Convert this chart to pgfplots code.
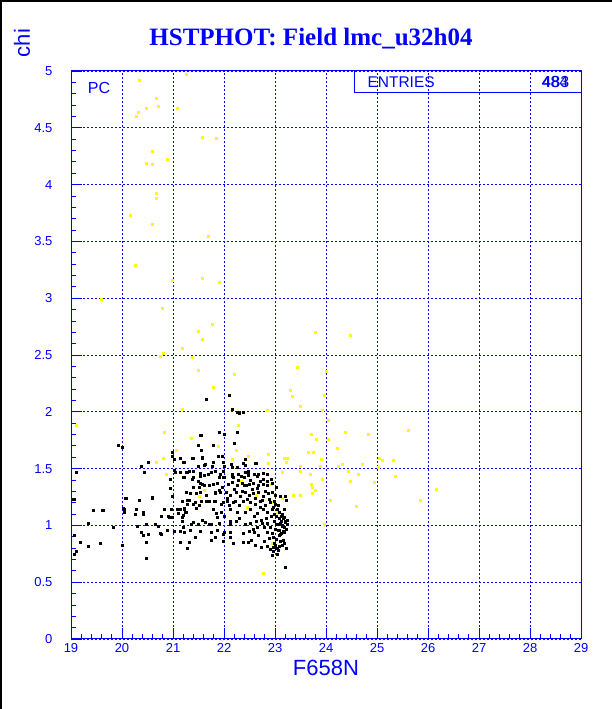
\documentclass[border=0pt]{standalone}
\usepackage{fontspec}
\setmainfont{Liberation Sans}
\newfontfamily\titlefont{Liberation Serif}
\usepackage{pgfplots}
\pgfplotsset{compat=1.18}
\definecolor{hblue}{RGB}{0,0,255}
\definecolor{hyellow}{RGB}{255,255,0}
\begin{document}
\begin{tikzpicture}
\useasboundingbox (0pt,0pt) rectangle (612pt,709pt);
\fill[white] (0pt,0pt) rectangle (612pt,709pt);
\draw[black, line width=2pt] (1pt,0pt) -- (1pt,708pt) -- (612pt,708pt);
\begin{axis}[
  at={(71pt,70pt)}, anchor=south west,
  width=510pt, height=568pt, scale only axis,
  xmin=19, xmax=29, ymin=0, ymax=5,
  xtick={19,20,21,22,23,24,25,26,27,28,29},
  ytick={0,0.5,1,1.5,2,2.5,3,3.5,4,4.5,5},
  minor x tick num=4, minor y tick num=4,
  xtick pos=bottom, ytick pos=left, tick align=inside,
  major tick length=11pt, minor tick length=5pt,
  grid=major,
  grid style={hblue, line width=0.7pt, dash pattern=on 2pt off 2pt},
  axis line style={hblue, line width=1pt},
  tick style={hblue, line width=0.8pt},
  /pgf/number format/assume math mode=true,
  ticklabel style={hblue, font=\fontsize{13}{13}\selectfont},
  yticklabel style={xshift=-15pt},
  xticklabel style={yshift=-1pt},
  clip=false,
]
\addplot[only marks, mark=square*, mark size=1pt, color=hyellow] coordinates {
(20.33,4.92)(21.25,4.97)(20.67,4.76)(20.71,4.69)(20.47,4.67)(20.31,4.64)(20.27,4.60)(21.09,4.67)
(21.58,4.42)(21.84,4.41)(20.60,4.29)(20.89,4.22)(20.47,4.19)(20.60,4.18)(20.68,3.92)(20.67,3.88)
(20.17,3.73)(20.60,3.65)(21.69,3.55)(20.25,3.29)(20.98,3.16)(21.58,3.18)(21.90,3.14)(19.60,2.99)
(20.79,2.91)(21.77,2.77)(21.50,2.71)(21.58,2.64)(23.78,2.70)(24.48,2.67)(21.18,2.56)(20.80,2.52)
(20.75,2.49)(21.37,2.48)(21.49,2.37)(22.20,2.33)(23.43,2.39)(24.01,2.36)(21.78,2.22)(23.29,2.19)
(23.33,2.14)(23.96,2.15)(23.49,2.05)(22.84,2.01)(23.93,2.01)(24.04,1.93)(22.28,1.88)(24.37,1.82)
(24.82,1.80)(25.61,1.84)(23.71,1.80)(23.80,1.76)(24.04,1.76)(21.88,1.70)(22.24,1.66)(24.21,1.68)
(22.87,1.63)(22.47,1.61)(23.66,1.64)(23.74,1.64)(23.18,1.59)(23.23,1.59)(23.22,1.56)(22.86,1.55)
(23.90,1.58)(25.04,1.59)(25.10,1.57)(25.31,1.57)(22.16,1.58)(24.71,1.54)(24.31,1.54)(24.24,1.52)
(23.88,1.52)(23.49,1.52)(25.02,1.51)(24.43,1.48)(23.50,1.48)(23.14,1.47)(24.64,1.45)(23.69,1.45)
(25.35,1.43)(24.48,1.39)(23.93,1.41)(24.95,1.38)(23.70,1.36)(23.73,1.34)(23.78,1.31)(26.17,1.32)
(22.92,1.36)(23.35,1.27)(23.50,1.27)(23.73,1.28)(23.15,1.24)(24.08,1.22)(24.60,1.17)(25.84,1.22)
(23.97,1.01)(22.77,0.58)(21.18,2.02)(19.10,1.88)(20.82,1.82)(21.35,1.77)(21.06,1.66)(20.80,1.59)
(20.68,1.56)(20.86,1.45)(21.52,1.26)(21.62,1.31)(21.82,1.28)(22.64,1.27)(22.76,1.41)(22.34,1.39)
(22.40,1.47)(22.94,0.84)(23.05,1.12)(23.12,1.03)(22.95,1.20)(22.45,1.16)
};
\addplot[only marks, mark=square*, mark size=1pt, color=black] coordinates {
(19.92,1.71)(20.00,1.69)(20.98,1.64)(20.98,1.61)(21.15,1.59)(21.22,1.56)(20.37,1.52)(20.52,1.56)
(19.10,1.47)(20.43,1.47)(21.03,1.49)(21.05,1.47)(21.15,1.47)(21.25,1.47)(21.32,1.48)(21.22,1.42)
(20.95,1.41)(20.95,1.33)(20.99,1.26)(21.31,1.22)(21.27,1.19)(21.22,1.15)(21.08,1.14)(20.82,1.14)
(20.97,1.14)(21.24,1.12)(21.18,1.07)(21.20,1.09)(20.99,1.07)(20.90,1.08)(20.60,1.24)(20.33,1.22)
(20.08,1.24)(19.06,1.23)(20.03,1.15)(20.05,1.12)(20.27,1.14)(19.63,1.13)(19.44,1.13)(20.26,1.10)
(20.41,1.10)(19.33,1.02)(19.82,0.98)(20.29,0.99)(20.47,1.01)(20.65,1.01)(20.71,0.99)(20.88,0.96)
(20.76,0.92)(21.03,0.95)(21.20,0.98)(21.15,0.95)(20.38,0.94)(20.41,0.91)(20.52,0.92)(19.07,0.91)
(19.18,0.85)(19.33,0.82)(19.57,0.84)(20.01,0.83)(20.47,0.85)(21.15,0.85)(21.31,0.85)(21.27,0.80)
(19.10,0.77)(19.07,0.75)(20.48,0.71)(21.02,1.58)
(22.10,2.15)(21.65,2.11)(22.16,2.02)(22.26,2.00)(22.29,1.99)(22.37,2.00)(21.90,1.82)(22.01,1.80)
(22.25,1.82)(21.55,1.79)(21.50,1.71)(21.78,1.71)(22.20,1.72)(21.55,1.66)(21.40,1.59)(21.57,1.59)
(21.88,1.61)(21.97,1.61)(21.79,1.56)(21.62,1.53)(21.50,1.52)(21.76,1.52)(22.00,1.52)(22.16,1.51)
(22.25,1.51)(22.42,1.58)(22.42,1.53)(22.37,1.55)(22.63,1.55)(21.40,1.48)(21.99,1.48)(21.83,1.48)
(21.74,1.47)(21.53,1.46)(21.69,1.45)(21.92,1.45)(21.99,1.42)(21.20,1.42)(22.16,1.45)(22.18,1.42)
(22.33,1.43)(22.40,1.42)(22.48,1.48)(22.48,1.45)(22.60,1.45)(22.67,1.45)(22.76,1.46)
(21.27,1.47)(21.40,1.42)(21.54,1.43)(21.61,1.44)(21.91,1.42)(22.00,1.42)(22.17,1.43)(22.27,1.45)
(22.42,1.47)(22.48,1.44)(22.59,1.45)(22.65,1.43)(22.76,1.41)(22.85,1.45)(22.93,1.41)
(21.40,1.34)(21.53,1.37)(21.58,1.36)(21.78,1.36)(21.87,1.37)(22.08,1.36)(22.17,1.38)(22.25,1.35)
(22.35,1.37)(22.43,1.35)(22.50,1.36)(22.57,1.37)(22.68,1.35)(22.76,1.36)(22.85,1.35)(22.94,1.37)(23.03,1.34)
(21.25,1.29)(21.33,1.28)(21.46,1.28)(21.54,1.29)(21.66,1.27)(21.82,1.28)(21.92,1.29)(22.05,1.29)
(22.12,1.27)(22.24,1.29)(22.31,1.26)(22.41,1.29)(22.49,1.27)(22.57,1.28)(22.67,1.29)(22.76,1.26)
(22.86,1.28)(22.94,1.29)(23.01,1.27)(23.10,1.26)(23.20,1.26)
(21.19,1.21)(21.28,1.22)(21.40,1.19)(21.55,1.21)(21.70,1.21)(21.83,1.21)(21.99,1.20)(22.07,1.21)
(22.22,1.21)(22.29,1.18)(22.38,1.21)(22.51,1.20)(22.62,1.19)(22.71,1.21)(22.81,1.18)(22.90,1.20)
(22.99,1.21)(23.07,1.18)(23.22,1.22)
(21.22,1.14)(21.25,1.12)(21.46,1.15)(21.78,1.14)(21.84,1.11)(21.95,1.12)(22.12,1.14)(22.25,1.12)
(22.42,1.12)(22.52,1.14)(22.65,1.11)(22.77,1.14)(22.85,1.12)(22.94,1.14)(22.98,1.10)(23.09,1.12)
(23.14,1.10)(23.18,1.14)
(21.19,1.04)(21.40,1.03)(21.57,1.05)(21.70,1.01)(21.90,1.02)(22.12,1.04)(22.23,1.04)(22.42,1.01)
(22.52,1.02)(22.63,1.04)(22.75,1.02)(22.85,1.02)(22.98,1.04)(23.03,1.01)(23.10,1.02)(23.14,1.00)
(23.20,1.03)(23.23,1.01)
(21.22,0.94)(21.33,0.96)(21.54,0.95)(21.75,0.94)(21.86,0.96)(21.99,0.92)(22.13,0.94)(22.38,0.93)
(22.50,0.95)(22.59,0.94)(22.68,0.91)(22.85,0.94)(22.94,0.93)(23.07,0.96)(23.12,0.93)(23.19,0.94)
(21.31,0.85)(21.75,0.87)(21.99,0.86)(22.18,0.84)(22.38,0.85)(22.48,0.85)(22.54,0.87)(22.62,0.83)
(22.72,0.81)(22.78,0.86)(22.84,0.82)(22.90,0.79)(22.98,0.84)(23.05,0.80)(23.10,0.86)(23.18,0.84)
(23.22,0.80)(22.97,0.77)(23.05,0.75)(22.94,0.74)(23.20,0.63)
(23.03,1.08)(23.08,1.06)(23.12,1.04)(23.16,1.06)(23.20,1.04)(23.24,1.05)(23.06,1.01)(23.14,0.99)
(23.19,0.98)(23.08,0.96)(23.16,0.95)(23.11,0.92)(23.02,0.88)(23.10,0.86)(23.16,0.87)(23.01,0.83)
(23.09,0.82)(23.14,0.83)(23.03,0.80)(22.97,0.81)(23.06,0.78)
(21.54,1.79)(21.15,1.59)(21.20,1.56)(21.38,1.59)(21.57,1.60)(21.63,1.54)(21.79,1.56)(21.99,1.56)
(22.14,1.54)(22.41,1.58)(22.62,1.55)
(21.37,1.41)(21.49,1.39)(21.52,1.34)(21.61,1.35)(21.70,1.35)(21.82,1.29)(21.91,1.31)
(20.07,1.24)(20.59,1.25)(19.05,1.23)(19.62,1.13)(20.04,1.14)(20.42,1.12)
(21.44,1.20)(21.52,1.18)(21.66,1.21)(21.80,1.21)(21.94,1.19)(22.10,1.18)(22.18,1.20)
(21.36,1.01)(21.49,1.01)(21.63,1.03)(21.74,1.01)(21.87,1.07)(22.00,1.08)(22.12,1.01)
(21.15,0.85)(21.28,0.80)(21.43,0.90)(21.75,0.94)(21.83,0.90)(22.01,0.94)(22.12,0.90)
(20.75,0.93)(20.76,1.08)(20.93,1.07)(21.10,1.11)(21.14,1.14)
(22.55,1.32)(22.62,1.24)(22.70,1.16)(22.80,1.30)(22.88,1.23)(22.92,1.08)(22.96,1.16)(23.00,0.97)
(22.82,1.06)(22.72,1.05)(22.60,1.08)(22.46,1.23)(22.36,1.30)(22.30,1.06)(22.58,0.97)(22.66,0.98)
(22.90,0.98)(22.96,0.90)(23.12,1.08)(23.18,1.07)(23.22,0.97)(23.04,1.14)(22.84,1.39)(22.70,1.39)
(22.52,1.40)(22.40,1.35)(22.28,1.40)(22.20,1.32)(22.06,1.24)(21.96,1.34)(22.78,0.98)(22.88,0.89)
(23.08,0.91)(23.00,1.19)(22.66,1.33)(22.74,1.22)
};
\end{axis}
\node[hblue, font=\titlefont\bfseries\fontsize{25}{25}\selectfont] at (311pt,670pt) {HSTPHOT: Field lmc\_u32h04};
\node[hblue, rotate=90, font=\fontsize{22}{22}\selectfont] at (22pt,666pt) {chi};
\node[hblue, font=\fontsize{22}{22}\selectfont] at (326pt,41pt) {F658N};
\node[hblue, font=\fontsize{16}{16}\selectfont] at (99pt,621pt) {PC};
\draw[hblue, line width=1pt] (354pt,616pt) rectangle (581pt,638pt);
\node[hblue, anchor=west, font=\fontsize{15.5}{15.5}\selectfont] at (364pt,627pt) {ENTRIES};
\node[hblue, font=\fontsize{16}{16}\selectfont] at (555pt,627pt) {484};
\node[hblue, font=\fontsize{16}{16}\selectfont, xshift=0.8pt] at (555pt,627pt) {483};
\end{tikzpicture}
\end{document}
